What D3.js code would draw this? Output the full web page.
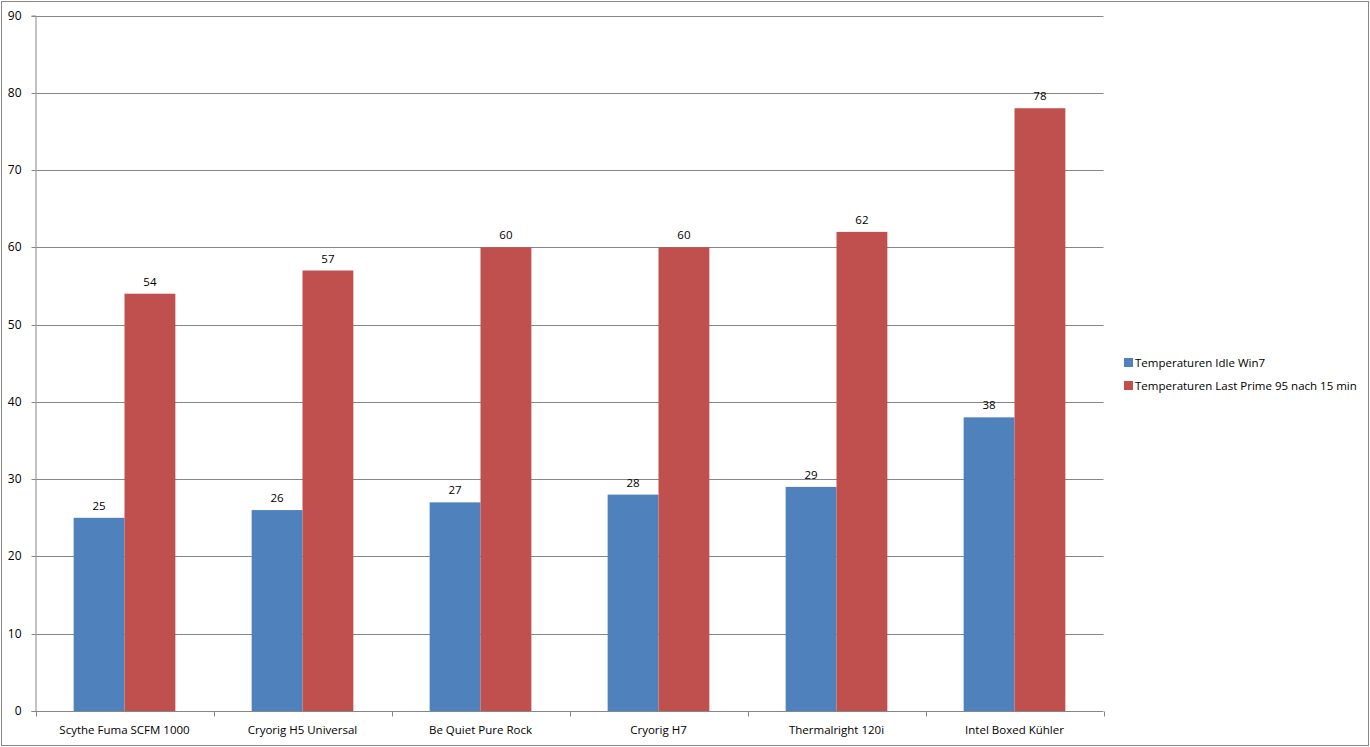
<!DOCTYPE html>
<html lang="de">
<head>
  <meta charset="UTF-8">
  <title>Temperaturen</title>
  <script src="https://d3js.org/d3.v7.min.js"></script>
  <style>
    body { margin: 0; background: #fff; }
    svg text { font-family: "Open Sans", "DejaVu Sans", sans-serif; fill: #000; }
  </style>
</head>
<body>
  <script>
    // data
    const coolers = ["Scythe Fuma SCFM 1000", "Cryorig H5 Universal", "Be Quiet Pure Rock",
                     "Cryorig H7", "Thermalright 120i", "Intel Boxed Kühler"];
    const seriesNames = ["Temperaturen Idle Win7", "Temperaturen Last Prime 95 nach 15 min"];
    const idle = [25, 26, 27, 28, 29, 38];
    const load = [54, 57, 60, 60, 62, 78];
    const yTicks = [0, 10, 20, 30, 40, 50, 60, 70, 80, 90];
    const colors = ["#4F81BD", "#C0504D"];

    const W = 1370, H = 747;
    const plotL = 35.5, plotR = 1103.5, plotT = 15.5, plotB = 711;

    const svg = d3.select("body").append("svg")
        .attr("width", W)
        .attr("height", H);

    // outer chart border
    svg.append("rect")
        .attr("x", 1.5).attr("y", 1.5)
        .attr("width", W - 3).attr("height", H - 3)
        .attr("fill", "none")
        .attr("stroke", "#868686");

    const x = d3.scaleBand().domain(coolers).range([plotL, plotR]).padding(0);
    const y = d3.scaleLinear().domain([0, 90]).range([plotB, plotT]);
    // Excel gap width 150% -> each bar is 1/3.5 of the band
    const bw = x.bandwidth() / 3.5;
    const off = x.bandwidth() * 0.75 / 3.5;

    // gridlines
    svg.append("g").selectAll("line")
        .data(yTicks.filter(d => d > 0))
        .enter().append("line")
        .attr("x1", plotL).attr("x2", plotR)
        .attr("y1", d => Math.round(y(d)) + 0.5).attr("y2", d => Math.round(y(d)) + 0.5)
        .attr("stroke", "#868686");

    // y axis
    const yAxis = svg.append("g")
        .attr("transform", `translate(${plotL},0)`)
        .call(d3.axisLeft(y).tickValues(yTicks).tickSize(4).tickPadding(10).tickFormat(d3.format("d")));
    yAxis.select(".domain").attr("stroke", "#868686");
    yAxis.selectAll(".tick line").attr("stroke", "#868686");
    yAxis.selectAll(".tick").attr("transform", d => `translate(0,${Math.round(y(d)) + 0.5})`);
    yAxis.selectAll("text").attr("font-size", 12).attr("font-family", null);

    // bars + value labels
    const data = [idle, load];
    data.forEach((vals, s) => {
      svg.append("g").selectAll("rect")
          .data(vals)
          .enter().append("rect")
          .attr("x", (d, i) => x(coolers[i]) + off + s * bw)
          .attr("y", d => y(d))
          .attr("width", bw)
          .attr("height", d => y(0) - y(d))
          .attr("fill", colors[s]);

      svg.append("g").selectAll("text")
          .data(vals)
          .enter().append("text")
          .attr("x", (d, i) => x(coolers[i]) + off + s * bw + bw / 2)
          .attr("y", d => y(d) - 8)
          .attr("text-anchor", "middle")
          .attr("font-size", 11.5)
          .text(d => d);
    });

    // x axis
    const xAxis = svg.append("g")
        .attr("transform", `translate(0,${Math.round(plotB) + 0.5})`);
    xAxis.append("line")
        .attr("x1", plotL).attr("x2", plotR)
        .attr("stroke", "#868686");
    xAxis.selectAll("line.tk")
        .data(d3.range(coolers.length + 1))
        .enter().append("line")
        .attr("class", "tk")
        .attr("x1", i => Math.round(plotL + i * x.bandwidth()) + 0.5)
        .attr("x2", i => Math.round(plotL + i * x.bandwidth()) + 0.5)
        .attr("y1", 0).attr("y2", 5)
        .attr("stroke", "#868686");
    xAxis.selectAll("text")
        .data(coolers)
        .enter().append("text")
        .attr("x", d => x(d) + x.bandwidth() / 2)
        .attr("y", 22)
        .attr("text-anchor", "middle")
        .attr("font-size", 11.5)
        .text(d => d);

    // legend
    const legend = svg.append("g").attr("transform", "translate(1124,358)");
    seriesNames.forEach((name, i) => {
      legend.append("rect")
          .attr("x", 0).attr("y", i * 23)
          .attr("width", 9).attr("height", 9)
          .attr("fill", colors[i]);
      legend.append("text")
          .attr("x", 11).attr("y", i * 23 + 8.5)
          .attr("font-size", 11.5)
          .text(name);
    });
  </script>
</body>
</html>
